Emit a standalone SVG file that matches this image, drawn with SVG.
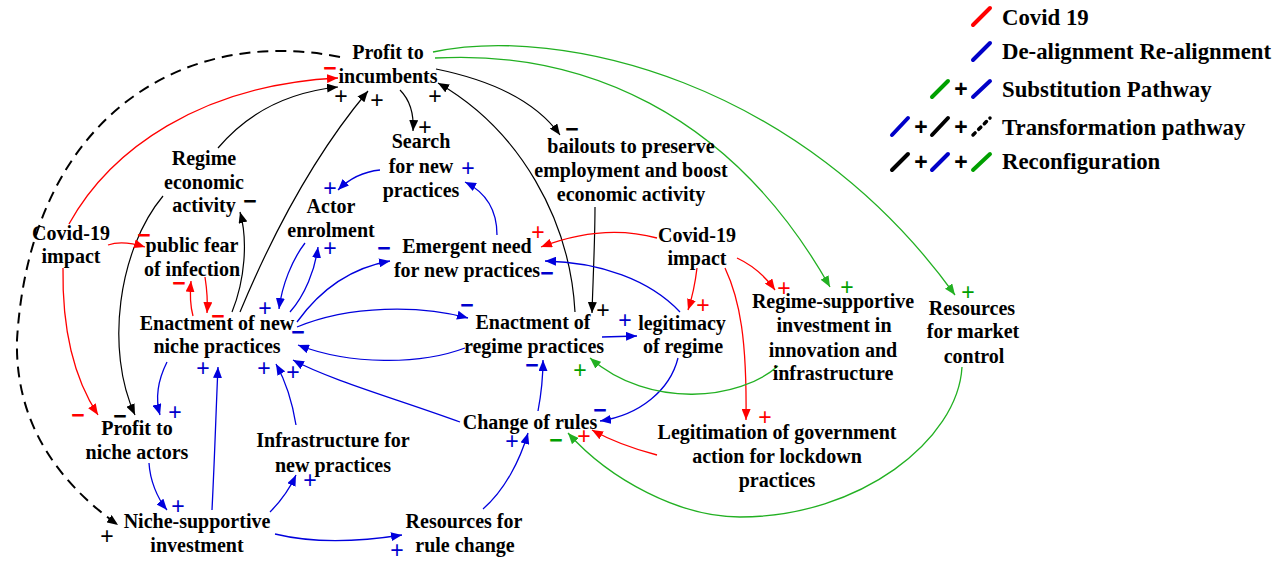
<svg xmlns="http://www.w3.org/2000/svg" width="1280" height="562" viewBox="0 0 1280 562">
<style>
.n{font-family:"Liberation Serif","Times New Roman",serif;font-weight:bold;font-size:20px;fill:#000;text-anchor:middle}
.lg{font-family:"Liberation Serif","Times New Roman",serif;font-weight:bold;font-size:22.8px;fill:#000}
.p{font-family:"Liberation Sans",Arial,sans-serif;font-size:23px;text-anchor:middle}
.m{font-family:"Liberation Sans",Arial,sans-serif;font-size:23px;font-weight:bold;text-anchor:middle}
.r{fill:#ff0000}.b{fill:#0000cc}.k{fill:#000}.g{fill:#00a000}
.ck{fill:none;stroke:#000;stroke-width:1.2}
.cd{fill:none;stroke:#000;stroke-width:2;stroke-dasharray:11 7}
.cr{fill:none;stroke:#ff0000;stroke-width:1.3}
.cb{fill:none;stroke:#0000dd;stroke-width:1.3}
.cg{fill:none;stroke:#22b022;stroke-width:1.3}
.sl{stroke-width:4;stroke-linecap:round}
.dt{stroke-width:3.5;stroke-linecap:round;stroke-dasharray:3 5}
</style>
<defs>
<marker id="ak" markerUnits="userSpaceOnUse" markerWidth="11" markerHeight="9" refX="11" refY="4.5" orient="auto"><path d="M0,0 L11,4.5 L0,9 z" fill="#000"/></marker>
<marker id="ar" markerUnits="userSpaceOnUse" markerWidth="11" markerHeight="9" refX="11" refY="4.5" orient="auto"><path d="M0,0 L11,4.5 L0,9 z" fill="#ff0000"/></marker>
<marker id="ab" markerUnits="userSpaceOnUse" markerWidth="11" markerHeight="9" refX="11" refY="4.5" orient="auto"><path d="M0,0 L11,4.5 L0,9 z" fill="#0000dd"/></marker>
<marker id="ag" markerUnits="userSpaceOnUse" markerWidth="11" markerHeight="9" refX="11" refY="4.5" orient="auto"><path d="M0,0 L11,4.5 L0,9 z" fill="#22b022"/></marker>
</defs>
<rect width="1280" height="562" fill="#fff"/>

<g id="connectors">
<!-- black -->
<path class="cd" d="M340,57 C180,25 30,120 17,340 C15,420 55,480 118,525" marker-end="url(#ak)"/>
<path class="ck" d="M218,148 C250,110 290,92 338,87" marker-end="url(#ak)"/>
<path class="ck" d="M240,312 C270,240 310,160 368,91" marker-end="url(#ak)"/>
<path class="ck" d="M575,312 C570,220 520,130 438,83" marker-end="url(#ak)"/>
<path class="ck" d="M400,90 C410,100 414,115 413,131" marker-end="url(#ak)"/>
<path class="ck" d="M436,69 C490,80 535,100 560,135" marker-end="url(#ak)"/>
<path class="ck" d="M163,196 C118,250 105,350 135,415" marker-end="url(#ak)"/>
<path class="ck" d="M232,312 C245,280 248,240 240,212" marker-end="url(#ak)"/>
<path class="ck" d="M595,207 C595,240 593,280 592,313" marker-end="url(#ak)"/>
<!-- red -->
<path class="cr" d="M69,224 C110,150 200,85 338,78" marker-end="url(#ar)"/>
<path class="cr" d="M108,245 C120,241 132,243 145,247" marker-end="url(#ar)"/>
<path class="cr" d="M63,268 C62,330 75,380 98,415" marker-end="url(#ar)"/>
<path class="cr" d="M193,316 C190,305 190,292 191,281" marker-end="url(#ar)"/>
<path class="cr" d="M205,277 C207,290 208,300 207,313" marker-end="url(#ar)"/>
<path class="cr" d="M657,238 C620,228 580,232 541,247" marker-end="url(#ar)"/>
<path class="cr" d="M697,268 C695,285 692,298 688,310" marker-end="url(#ar)"/>
<path class="cr" d="M737,258 C752,265 765,276 775,290" marker-end="url(#ar)"/>
<path class="cr" d="M725,268 C740,300 747,340 746,420" marker-end="url(#ar)"/>
<path class="cr" d="M657,455 C630,448 610,440 592,430" marker-end="url(#ar)"/>
<!-- blue -->
<path class="cb" d="M497,235 C497,210 485,192 465,182" marker-end="url(#ab)"/>
<path class="cb" d="M380,170 C360,172 348,180 338,190" marker-end="url(#ab)"/>
<path class="cb" d="M305,243 C292,260 282,285 279,309" marker-end="url(#ab)"/>
<path class="cb" d="M290,312 C305,295 315,270 318,247" marker-end="url(#ab)"/>
<path class="cb" d="M297,322 C320,290 350,268 390,261" marker-end="url(#ab)"/>
<path class="cb" d="M297,327 C350,305 420,305 468,318" marker-end="url(#ab)"/>
<path class="cb" d="M465,348 C420,365 350,365 298,345" marker-end="url(#ab)"/>
<path class="cb" d="M460,422 C400,400 330,380 293,360" marker-end="url(#ab)"/>
<path class="cb" d="M167,362 C158,380 155,398 160,415" marker-end="url(#ab)"/>
<path class="cb" d="M149,463 C150,480 157,498 167,510" marker-end="url(#ab)"/>
<path class="cb" d="M212,510 C215,450 216,410 218,367" marker-end="url(#ab)"/>
<path class="cb" d="M296,425 C292,400 285,380 276,364" marker-end="url(#ab)"/>
<path class="cb" d="M270,512 C282,500 290,488 296,475" marker-end="url(#ab)"/>
<path class="cb" d="M275,534 C320,545 370,540 402,535" marker-end="url(#ab)"/>
<path class="cb" d="M483,509 C505,490 520,460 528,433" marker-end="url(#ab)"/>
<path class="cb" d="M538,411 C542,390 543,375 543,360" marker-end="url(#ab)"/>
<path class="cb" d="M678,358 C670,390 640,415 600,421" marker-end="url(#ab)"/>
<path class="cb" d="M602,337 L637,336" marker-end="url(#ab)"/>
<path class="cb" d="M680,312 C650,280 600,262 545,261" marker-end="url(#ab)"/>
<!-- green -->
<path class="cg" d="M433,52 C560,25 800,80 955,295" marker-end="url(#ag)"/>
<path class="cg" d="M435,58 C580,50 730,110 830,287" marker-end="url(#ag)"/>
<path class="cg" d="M962,367 C958,440 860,517 740,517 C680,517 610,480 568,433" marker-end="url(#ag)"/>
<path class="cg" d="M778,366 C740,400 650,410 590,358" marker-end="url(#ag)"/>
</g>

<g id="polarity">
<text class="m r" x="330" y="76">−</text>
<text class="m r" x="144" y="243">−</text>
<text class="m r" x="179" y="291">−</text>
<text class="m r" x="218" y="324">−</text>
<text class="m r" x="78" y="423">−</text>
<text class="p r" x="538" y="240">+</text>
<text class="p r" x="703" y="313">+</text>
<text class="p r" x="784" y="296">+</text>
<text class="p r" x="765" y="425">+</text>
<text class="p r" x="584" y="444">+</text>
<text class="p k" x="341" y="104">+</text>
<text class="p k" x="377" y="108">+</text>
<text class="p k" x="435" y="104">+</text>
<text class="p k" x="425" y="135">+</text>
<text class="m k" x="572" y="137">−</text>
<text class="m k" x="250" y="209">−</text>
<text class="m k" x="120" y="424">−</text>
<text class="p k" x="107" y="544">+</text>
<text class="p k" x="603" y="318">+</text>
<text class="p b" x="468" y="176">+</text>
<text class="p b" x="330" y="196">+</text>
<text class="p b" x="330" y="256">+</text>
<text class="p b" x="265" y="316">+</text>
<text class="m b" x="298" y="340">−</text>
<text class="m b" x="384" y="256">−</text>
<text class="m b" x="467" y="313">−</text>
<text class="m b" x="547" y="281">−</text>
<text class="p b" x="625" y="328">+</text>
<text class="p b" x="203" y="376">+</text>
<text class="p b" x="264" y="376">+</text>
<text class="p b" x="293" y="380">+</text>
<text class="p b" x="175" y="420">+</text>
<text class="p b" x="178" y="514">+</text>
<text class="p b" x="310" y="488">+</text>
<text class="p b" x="397" y="558">+</text>
<text class="p b" x="512" y="449">+</text>
<text class="m b" x="532" y="373">−</text>
<text class="m b" x="600" y="418">−</text>
<text class="p g" x="847" y="295">+</text>
<text class="p g" x="968" y="300">+</text>
<text class="p g" x="580" y="378">+</text>
<text class="m g" x="556" y="448">−</text>
</g>

<g id="profit-incumbents"><text class="n" x="388" y="59">Profit to</text><text class="n" x="388" y="83">incumbents</text></g>
<g id="search"><text class="n" x="421" y="148">Search</text><text class="n" x="421" y="173">for new</text><text class="n" x="421" y="197">practices</text></g>
<g id="bailouts"><text class="n" x="631" y="153">bailouts to preserve</text><text class="n" x="631" y="177">employment and boost</text><text class="n" x="631" y="201">economic activity</text></g>
<g id="regime-economic"><text class="n" x="204" y="165">Regime</text><text class="n" x="204" y="189">economic</text><text class="n" x="204" y="212">activity</text></g>
<g id="actor"><text class="n" x="331" y="213">Actor</text><text class="n" x="331" y="237">enrolment</text></g>
<g id="covid-left"><text class="n" x="71" y="240">Covid-19</text><text class="n" x="71" y="263">impact</text></g>
<g id="public-fear"><text class="n" x="192" y="252">public fear</text><text class="n" x="192" y="276">of infection</text></g>
<g id="emergent"><text class="n" x="467" y="253">Emergent need</text><text class="n" x="467" y="277">for new practices</text></g>
<g id="covid-right"><text class="n" x="697" y="242">Covid-19</text><text class="n" x="697" y="265">impact</text></g>
<g id="niche-practices"><text class="n" x="217" y="330">Enactment of new</text><text class="n" x="217" y="353">niche practices</text></g>
<g id="regime-practices"><text class="n" x="533" y="329">Enactment of</text><text class="n" x="534" y="353">regime practices</text></g>
<g id="legitimacy"><text class="n" x="682" y="330">legitimacy</text><text class="n" x="683" y="353">of regime</text></g>
<g id="regime-supportive"><text class="n" x="833" y="308">Regime-supportive</text><text class="n" x="834" y="332">investment in</text><text class="n" x="833" y="357">innovation and</text><text class="n" x="833" y="380">infrastructure</text></g>
<g id="market-control"><text class="n" x="972" y="315">Resources</text><text class="n" x="973" y="338">for market</text><text class="n" x="974" y="363">control</text></g>
<g id="profit-niche"><text class="n" x="137" y="435">Profit to</text><text class="n" x="137" y="459">niche actors</text></g>
<g id="infrastructure"><text class="n" x="333" y="447">Infrastructure for</text><text class="n" x="333" y="472">new practices</text></g>
<g id="change-rules"><text class="n" x="530" y="429">Change of rules</text></g>
<g id="legitimation"><text class="n" x="777" y="439">Legitimation of government</text><text class="n" x="777" y="463">action for lockdown</text><text class="n" x="777" y="487">practices</text></g>
<g id="niche-supportive"><text class="n" x="197" y="528">Niche-supportive</text><text class="n" x="197" y="552">investment</text></g>
<g id="resources-rule"><text class="n" x="464" y="528">Resources for</text><text class="n" x="465" y="552">rule change</text></g>

<g id="legend">
<line class="sl" x1="973" y1="25" x2="990" y2="8" stroke="#ff0000"/>
<text class="lg" x="1002" y="25">Covid 19</text>
<line class="sl" x1="973" y1="60" x2="990" y2="43" stroke="#0000c8"/>
<text class="lg" x="1002" y="59">De-alignment Re-alignment</text>
<line class="sl" x1="932" y1="97" x2="948" y2="81" stroke="#00a000"/>
<text class="m k" x="961" y="97">+</text>
<line class="sl" x1="973" y1="97" x2="990" y2="81" stroke="#0000c8"/>
<text class="lg" x="1002" y="97">Substitution Pathway</text>
<line class="sl" x1="892" y1="135" x2="908" y2="118" stroke="#0000c8"/>
<text class="m k" x="921" y="135">+</text>
<line class="sl" x1="932" y1="135" x2="948" y2="118" stroke="#000"/>
<text class="m k" x="961" y="135">+</text>
<line class="dt" x1="973" y1="135" x2="990" y2="118" stroke="#000"/>
<text class="lg" x="1002" y="135">Transformation pathway</text>
<line class="sl" x1="892" y1="170" x2="908" y2="154" stroke="#000"/>
<text class="m k" x="921" y="170">+</text>
<line class="sl" x1="932" y1="170" x2="948" y2="154" stroke="#0000c8"/>
<text class="m k" x="961" y="170">+</text>
<line class="sl" x1="973" y1="170" x2="990" y2="154" stroke="#00a000"/>
<text class="lg" x="1002" y="169">Reconfiguration</text>
</g>
</svg>
